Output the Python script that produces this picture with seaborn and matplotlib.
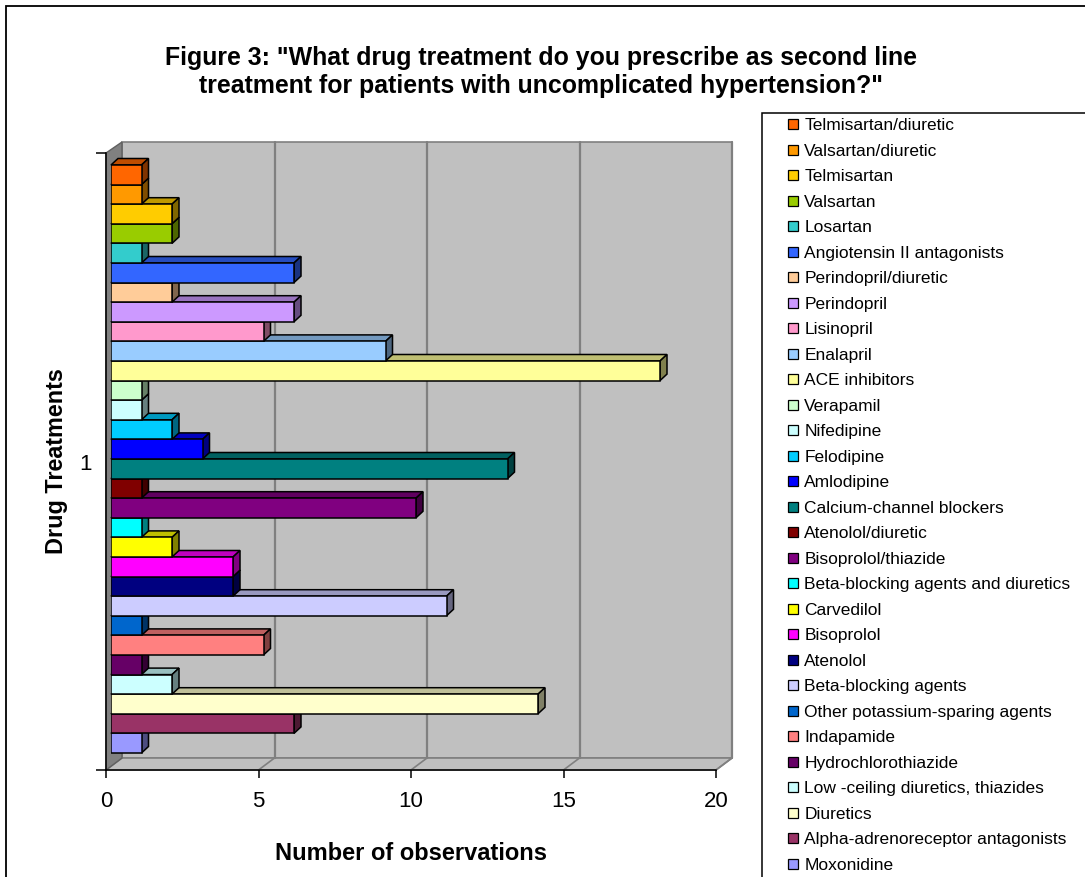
import matplotlib
matplotlib.use("Agg")
import matplotlib.pyplot as plt
import matplotlib.transforms as mtransforms
import matplotlib.colors as mcolors
from matplotlib.patches import Polygon, Rectangle
from matplotlib.lines import Line2D
import pandas as pd
import seaborn as sns

# ---- data -------------------------------------------------------------
treatments = [
    "Telmisartan/diuretic", "Valsartan/diuretic", "Telmisartan", "Valsartan",
    "Losartan", "Angiotensin II antagonists", "Perindopril/diuretic",
    "Perindopril", "Lisinopril", "Enalapril", "ACE inhibitors", "Verapamil",
    "Nifedipine", "Felodipine", "Amlodipine", "Calcium-channel blockers",
    "Atenolol/diuretic", "Bisoprolol/thiazide",
    "Beta-blocking agents and diuretics", "Carvedilol", "Bisoprolol",
    "Atenolol", "Beta-blocking agents", "Other potassium-sparing agents",
    "Indapamide", "Hydrochlorothiazide", "Low -ceiling diuretics, thiazides",
    "Diuretics", "Alpha-adrenoreceptor antagonists", "Moxonidine",
]
observations = [1, 1, 2, 2, 1, 6, 2, 6, 5, 9, 18, 1, 1, 2, 3, 13, 1, 10,
                1, 2, 4, 4, 11, 1, 5, 1, 2, 14, 6, 1]
bar_colors = [
    "#FF6600", "#FF9900", "#FFCC00", "#99CC00", "#33CCCC", "#3366FF",
    "#FFCC99", "#CC99FF", "#FF99CC", "#99CCFF", "#FFFF99", "#CCFFCC",
    "#CCFFFF", "#00CCFF", "#0000FF", "#008080", "#800000", "#800080",
    "#00FFFF", "#FFFF00", "#FF00FF", "#000080", "#CCCCFF", "#0066CC",
    "#FF8080", "#660066", "#CCFFFF", "#FFFFCC", "#993366", "#9999FF",
]
x_ticks = [0, 5, 10, 15, 20]
category_label = "1"
title_lines = ['Figure 3: "What drug treatment do you prescribe as second line',
               'treatment for patients with uncomplicated hypertension?"']

# ---- figure geometry (pixels, origin top-left) -----------------------
W, H = 1085, 877
sns.set_theme(style="white")
plt.rcParams["font.family"] = ["Liberation Sans", "DejaVu Sans"]
plt.rcParams["text.color"] = "black"
plt.rcParams["axes.labelcolor"] = "black"
plt.rcParams["xtick.color"] = "black"
plt.rcParams["ytick.color"] = "black"

fig = plt.figure(figsize=(W / 100, H / 100), dpi=100)
fig.patch.set_facecolor("white")

UNIT = 30.5              # pixels per observation
FRONT_X0, FRONT_TOP, FRONT_BOT = 106, 153, 770
BACK_X0, BACK_TOP, BACK_BOT = 122, 142, 758
BAR_X0 = 111
BAR_TOP, BAR_BOT = 165, 753
AX_TOP, AX_BOT = 149, 766
DEPTH_DX, DEPTH_DY = 7, 6.5   # bar depth in pixels
XMAX = x_ticks[-1]


def frac_box(x0, y0, x1, y1):
    return [x0 / W, 1 - y1 / H, (x1 - x0) / W, (y1 - y0) / H]


def disp(x, y):
    return (x, H - y)


ident = mtransforms.IdentityTransform()

# Front-plane axes: value axis, category axis, walls and floor
axf = fig.add_axes(frac_box(FRONT_X0, FRONT_TOP, FRONT_X0 + XMAX * UNIT, FRONT_BOT))
axf.set_zorder(0)
axf.patch.set_visible(False)
axf.set_xlim(0, XMAX)
axf.set_ylim(0, 1)
for s in ["top", "right"]:
    axf.spines[s].set_visible(False)
for s in ["left", "bottom"]:
    axf.spines[s].set_color("black")
    axf.spines[s].set_linewidth(1.1)
axf.set_xticks(x_ticks)
axf.set_xticklabels([str(t) for t in x_ticks], fontsize=16)
axf.set_yticks([0, 1])
axf.set_yticklabels(["", ""])
axf.set_yticks([0.5], minor=True)
axf.set_yticklabels([category_label], minor=True, fontsize=16)
axf.tick_params(axis="x", which="major", direction="out", length=6, width=1.1,
                color="black", pad=9, bottom=True)
axf.tick_params(axis="y", which="major", direction="out", length=7, width=1.1,
                color="black", left=True)
axf.tick_params(axis="y", which="minor", length=0, pad=10, left=True)
axf.set_xlabel("Number of observations", fontsize=17, fontweight="bold", labelpad=22)
axf.set_ylabel("Drug Treatments", fontsize=16.8, fontweight="bold", labelpad=8)

wall_grey = "#C0C0C0"
edge_grey = "#808080"
span = XMAX * UNIT

# back wall
axf.add_patch(Polygon([disp(BACK_X0, BACK_TOP), disp(BACK_X0 + span, BACK_TOP),
                       disp(BACK_X0 + span, BACK_BOT), disp(BACK_X0, BACK_BOT)],
                      closed=True, transform=ident, facecolor=wall_grey,
                      edgecolor=edge_grey, linewidth=1.2, clip_on=False, zorder=0.1))
# floor
axf.add_patch(Polygon([disp(FRONT_X0, FRONT_BOT), disp(FRONT_X0 + span, FRONT_BOT),
                       disp(BACK_X0 + span, BACK_BOT), disp(BACK_X0, BACK_BOT)],
                      closed=True, transform=ident, facecolor=wall_grey,
                      edgecolor=edge_grey, linewidth=1.2, clip_on=False, zorder=0.1))
# left side wall
axf.add_patch(Polygon([disp(FRONT_X0, FRONT_TOP), disp(BACK_X0, BACK_TOP),
                       disp(BACK_X0, BACK_BOT), disp(FRONT_X0, FRONT_BOT)],
                      closed=True, transform=ident, facecolor="#808080",
                      edgecolor="#606060", linewidth=1.0, clip_on=False, zorder=0.2))
# gridlines on back wall and floor
for t in x_ticks[1:]:
    xb = BACK_X0 + t * UNIT
    xf = FRONT_X0 + t * UNIT
    axf.add_line(Line2D([xb, xb], [H - BACK_TOP, H - BACK_BOT], transform=ident,
                        color=edge_grey, linewidth=1.6, clip_on=False, zorder=0.3))
    axf.add_line(Line2D([xf, xb], [H - FRONT_BOT, H - BACK_BOT], transform=ident,
                        color=edge_grey, linewidth=1.2, clip_on=False, zorder=0.3))

# ---- bars (front faces from seaborn) ----------------------------------
ax = fig.add_axes(frac_box(BAR_X0, AX_TOP, BAR_X0 + XMAX * UNIT, AX_BOT))
ax.set_zorder(1)
ax.patch.set_visible(False)
df = pd.DataFrame({"treatment": treatments, "observations": observations})
sns.barplot(data=df, x="observations", y="treatment", hue="treatment",
            order=treatments, hue_order=treatments, palette=bar_colors,
            saturation=1, width=1.0, edgecolor="black", linewidth=1.1,
            legend=False, ax=ax)
n = len(treatments)
bar_h = (BAR_BOT - BAR_TOP) / n
ax.set_xlim(0, XMAX)
ax.set_ylim(n - 0.5 + (AX_BOT - BAR_BOT) / bar_h, -0.5 - (BAR_TOP - AX_TOP) / bar_h)
ax.axis("off")


def shade(c, f):
    r, g, b = mcolors.to_rgb(c)
    return (r * f, g * f, b * f)


# depth faces: draw from the bottom bar upwards so upper fronts overlap
for p in ax.patches:
    yc = p.get_y() + p.get_height() / 2
    i = int(round(yc))
    if i < 0 or i >= n:
        continue
    base = 10 + (n - 1 - i) * 3
    p.set_zorder(base + 2)
    pts = ax.transData.transform([[p.get_x(), p.get_y()],
                                  [p.get_x() + p.get_width(), p.get_y() + p.get_height()]])
    xl, xr = sorted(pts[:, 0])
    yb, yt = sorted(pts[:, 1])
    col = bar_colors[i]
    top = Polygon([(xl, yt), (xr, yt), (xr + DEPTH_DX, yt + DEPTH_DY),
                   (xl + DEPTH_DX, yt + DEPTH_DY)], closed=True, transform=ident,
                  facecolor=shade(col, 0.75), edgecolor="black", linewidth=1.1,
                  clip_on=False, zorder=base)
    side = Polygon([(xr, yb), (xr, yt), (xr + DEPTH_DX, yt + DEPTH_DY),
                    (xr + DEPTH_DX, yb + DEPTH_DY)], closed=True, transform=ident,
                   facecolor=shade(col, 0.5), edgecolor="black", linewidth=1.1,
                   clip_on=False, zorder=base + 1)
    ax.add_patch(top)
    ax.add_patch(side)

# ---- title ---------------------------------------------------------------
fig.text(541 / W, 1 - 58 / H, title_lines[0], ha="center", va="center",
         fontsize=17.9, fontweight="bold")
fig.text(541 / W, 1 - 85.5 / H, title_lines[1], ha="center", va="center",
         fontsize=17.9, fontweight="bold")

# ---- legend --------------------------------------------------------------
fig.add_artist(Rectangle((762 / W, -0.05), (1100 - 762) / W, 1 - 113 / H + 0.05,
                         transform=fig.transFigure, facecolor="white",
                         edgecolor="black", linewidth=1.1, clip_on=False, zorder=0))
handles = [Line2D([], [], linestyle="none", marker="s", markersize=7.2,
                  markerfacecolor=c, markeredgecolor="black", markeredgewidth=0.9)
           for c in bar_colors]
fig.legend(handles, treatments, loc="upper left",
           bbox_to_anchor=(787 / W, 1 - 118 / H), frameon=False, fontsize=12.5,
           handlelength=0.7, handleheight=0.6, handletextpad=0.3,
           labelspacing=0.605, borderpad=0, borderaxespad=0)

# ---- outer border ---------------------------------------------------------
fig.add_artist(Rectangle((6 / W, -0.05), (1100 - 6) / W, 1 - 6 / H + 0.05,
                         transform=fig.transFigure, facecolor="none",
                         edgecolor="black", linewidth=1.3, clip_on=False, zorder=5))

fig.savefig("out.png", dpi=100)
